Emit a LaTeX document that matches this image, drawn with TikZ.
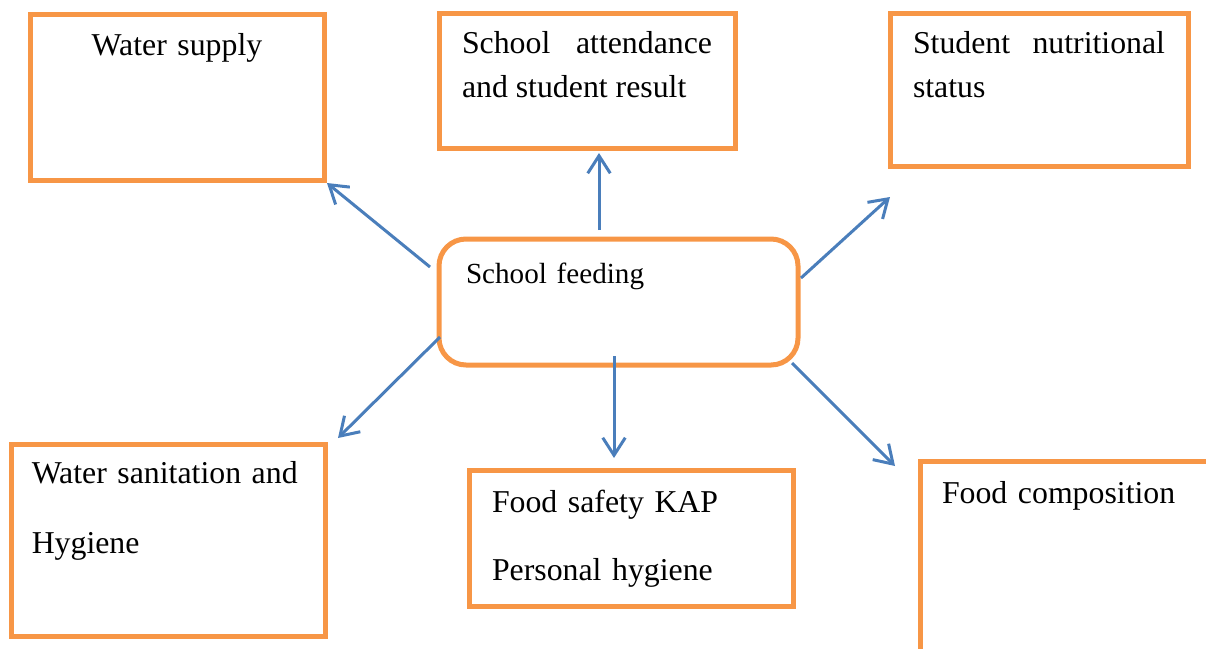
\documentclass[tikz,border=0pt]{standalone}
\usepackage{fontspec}
\setmainfont{Liberation Serif}
\usetikzlibrary{arrows.meta}
\definecolor{boxorange}{HTML}{F79646}
\definecolor{linkblue}{HTML}{4A7EBB}

\tikzset{
  goalbox/.style={rectangle,draw=boxorange,line width=2pt,anchor=north west,inner ysep=0pt,outer sep=0pt},
  link/.style={draw=linkblue,line width=1.2pt,-{Straight Barb[length=7pt,width=9pt]}}
}

\begin{document}
\begin{tikzpicture}[x=0.4pt,y=-0.4pt,font=\fontsize{12.72}{17.6}\selectfont]
  \clip (0,0) rectangle (1206,648);
  \node[goalbox,text width=117.6pt,inner xsep=0pt,align=center,text height=16.4pt,text depth=50pt] (ws) at (30,14) {Water supply};
  \node[goalbox,text width=100pt,inner xsep=9.2pt,align=justify,text height=16pt,text depth=38pt] (att) at (439,13) {School attendance\linebreak and student result};
  \node[goalbox,text width=100.8pt,inner xsep=9.2pt,align=justify,text height=16pt,text depth=45.2pt] (nut) at (890,13) {Student nutritional\linebreak status};
  \node[goalbox,rounded corners=10.8pt,text width=122pt,inner xsep=10.8pt,align=left,text height=17.6pt,text depth=32.8pt,font=\fontsize{11.66}{17.6}\selectfont] (sf) at (439,239) {School feeding};
  \node[goalbox,text width=109pt,inner xsep=8.3pt,align=left,text height=15.6pt,text depth=61.2pt,font=\fontsize{12.72}{28}\selectfont] (wsh) at (11,444) {Water sanitation and\\Hygiene};
  \node[goalbox,text width=111.2pt,inner xsep=9.2pt,align=left,text height=16.8pt,text depth=37.6pt,font=\fontsize{12.72}{27.2}\selectfont] (fs) at (469,470) {Food safety KAP\\Personal hygiene};
  \node[goalbox,text width=140pt,inner xsep=8.8pt,align=left,text height=16.8pt,text depth=70pt] (fc) at (920,461) {Food composition};
  % arrow ends
  \coordinate (sf-ws) at (430,267);
  \coordinate (ws-in) at (327,183);
  \coordinate (sf-att) at (599,230);
  \coordinate (att-in) at (599,153);
  \coordinate (sf-nut) at (801,278);
  \coordinate (nut-in) at (890,197);
  \coordinate (sf-wsh) at (440,337);
  \coordinate (wsh-in) at (338,438);
  \coordinate (sf-fs) at (614,356);
  \coordinate (fs-in) at (614,458);
  \coordinate (sf-fc) at (792,363);
  \coordinate (fc-in) at (895,466);
  \draw[link] (sf-ws) -- (ws-in);
  \draw[link] (sf-att) -- (att-in);
  \draw[link] (sf-nut) -- (nut-in);
  \draw[link] (sf-wsh) -- (wsh-in);
  \draw[link] (sf-fs) -- (fs-in);
  \draw[link] (sf-fc) -- (fc-in);
\end{tikzpicture}
\end{document}
